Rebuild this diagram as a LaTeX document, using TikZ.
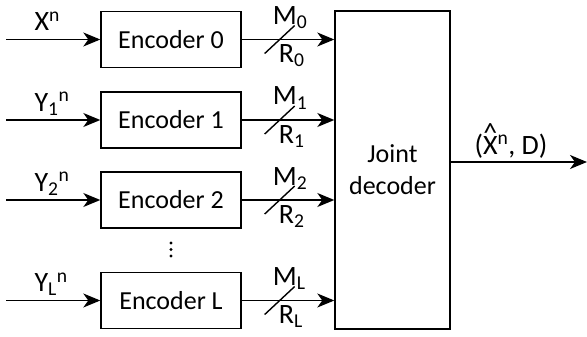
\documentclass[tikz,border=0pt]{standalone}
\usepackage{fontspec}
\setmainfont{Carlito}
\usetikzlibrary{arrows.meta,calc}
\newcommand{\hatX}{\ooalign{X\cr\hidewidth\raisebox{0.4em}{\textasciicircum}\hidewidth\cr}}
\begin{document}
\begin{tikzpicture}[x=1pt,y=-1pt,
  enc/.style={draw, line width=1.4pt, minimum width=140pt, minimum height=56pt, font=\fontsize{26}{30}\selectfont, inner sep=0pt},
  arr/.style={-{Stealth[length=17pt,width=14pt,inset=5pt]}, line width=1.4pt},
  lab/.style={font=\fontsize{28}{32}\selectfont, inner sep=0pt},
  slash/.style={line width=1.4pt}]
\useasboundingbox (0,0) rectangle (587,337);
\node[enc] (e0) at (171,39.5) {Encoder 0};
\node[enc] (e1) at (171,120) {Encoder 1};
\node[enc] (e2) at (171,200) {Encoder 2};
\node[enc] (eL) at (171,300.5) {Encoder L};
\node[draw, line width=1.4pt, minimum width=115pt, minimum height=318pt, align=center, font=\fontsize{26}{32}\selectfont, inner sep=0pt] (dec) at (392.5,170) {Joint\\decoder};
% inputs
\foreach \e/\lbl in {e0/X\textsuperscript{n}, e1/Y\textsubscript{1}\textsuperscript{n}, e2/Y\textsubscript{2}\textsuperscript{n}, eL/Y\textsubscript{L}\textsuperscript{n}}{
  \coordinate (in-\e) at ($(\e.west)+(-94,0)$);
  \draw[arr] (in-\e) -- (\e.west);
  \node[lab, anchor=base west] (il-\e) at ($(in-\e)+(28,-9)$) {\lbl};
}
% outputs
\foreach \e/\s in {e0/0, e1/1, e2/2, eL/L}{
  \draw[arr] (\e.east) -- (\e.east -| dec.west);
  \coordinate (s-\e) at ($(\e.east)+(38,0)$);
  \draw[slash] ($(s-\e)+(-15,14)$) -- ($(s-\e)+(15,-14)$);
  \node[lab, anchor=base west] (m-\e) at ($(s-\e)+(-7,-15)$) {M\textsubscript{\s}};
  \node[lab, anchor=base west] (r-\e) at ($(s-\e)+(-1,23)$) {R\textsubscript{\s}};
}
% dots
\foreach \yy in {243,249.5,256} \fill (171,\yy) circle (1.6pt);
% output
\coordinate (out) at (587,162);
\draw[arr] (dec.east |- out) -- (out);
\node[lab, anchor=base] (ol) at (511,154) {(\hatX\textsuperscript{n}, D)};
\end{tikzpicture}
\end{document}
